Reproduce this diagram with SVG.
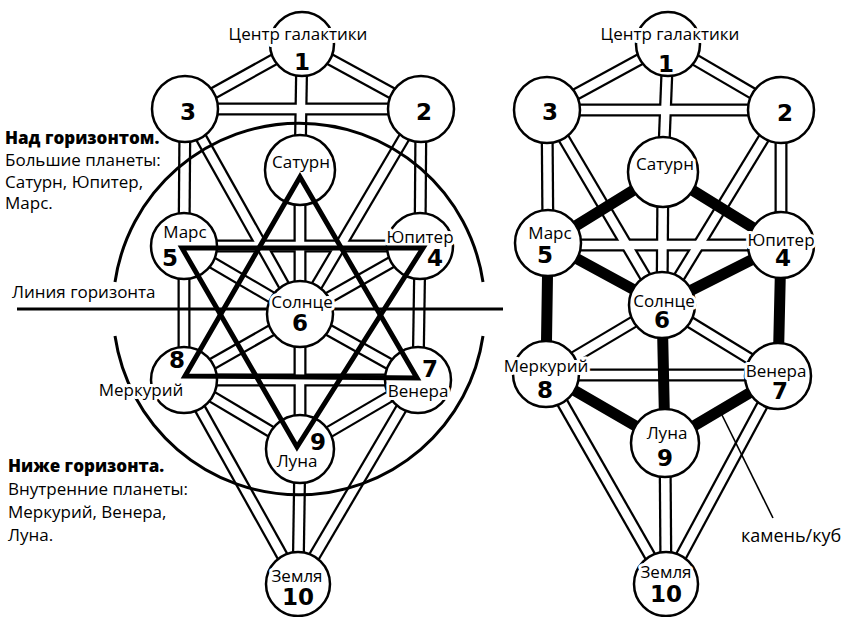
<svg xmlns="http://www.w3.org/2000/svg" width="851" height="617" viewBox="0 0 851 617">
<style>
.co{stroke:#000;stroke-width:13;fill:none}
.ci{stroke:#fff;stroke-width:8.5;fill:none}
.thick{stroke:#000;stroke-width:11;fill:none;stroke-linecap:round}
.node{fill:#fff;stroke:#000;stroke-width:2.5}
.lbl{font-family:"Open Sans","DejaVu Sans",sans-serif;font-size:17px;fill:#000;text-anchor:middle;paint-order:stroke;stroke:#fff;stroke-width:6;stroke-linejoin:round}
.num{font-family:"DejaVu Sans","Open Sans",sans-serif;font-size:23px;font-weight:bold;fill:#000;text-anchor:middle}
.txt{font-family:"Open Sans","DejaVu Sans",sans-serif;font-size:17px;fill:#000}
.bold{font-weight:800}
.star{fill:none;stroke:#000;stroke-width:5;stroke-linejoin:miter}
.hz{fill:none;stroke:#000;stroke-width:3}
</style>
<rect width="851" height="617" fill="#fff"/>
<g id="connectors">
 <g id="connectors-left">
  <g class="co">
   <line x1="302" y1="44" x2="421" y2="109"/><line x1="302" y1="44" x2="185" y2="109"/>
   <line x1="302" y1="44" x2="300" y2="170"/><line x1="300" y1="170" x2="300" y2="314"/>
   <line x1="185" y1="109" x2="421" y2="109"/><line x1="421" y1="109" x2="420" y2="246"/>
   <line x1="421" y1="109" x2="300" y2="314"/><line x1="185" y1="109" x2="184" y2="246"/>
   <line x1="185" y1="109" x2="300" y2="314"/><line x1="184" y1="246" x2="420" y2="246"/>
   <line x1="420" y1="246" x2="300" y2="314"/><line x1="420" y1="246" x2="418" y2="380"/>
   <line x1="184" y1="246" x2="300" y2="314"/><line x1="184" y1="246" x2="184" y2="380"/>
   <line x1="300" y1="314" x2="418" y2="380"/><line x1="300" y1="314" x2="184" y2="380"/>
   <line x1="300" y1="314" x2="300" y2="449"/><line x1="184" y1="380" x2="418" y2="380"/>
   <line x1="418" y1="380" x2="300" y2="449"/><line x1="418" y1="380" x2="298" y2="584"/>
   <line x1="184" y1="380" x2="300" y2="449"/><line x1="184" y1="380" x2="298" y2="584"/>
   <line x1="300" y1="449" x2="298" y2="584"/>
  </g>
  <g class="ci">
   <line x1="302" y1="44" x2="421" y2="109"/><line x1="302" y1="44" x2="185" y2="109"/>
   <line x1="302" y1="44" x2="300" y2="170"/><line x1="300" y1="170" x2="300" y2="314"/>
   <line x1="185" y1="109" x2="421" y2="109"/><line x1="421" y1="109" x2="420" y2="246"/>
   <line x1="421" y1="109" x2="300" y2="314"/><line x1="185" y1="109" x2="184" y2="246"/>
   <line x1="185" y1="109" x2="300" y2="314"/><line x1="184" y1="246" x2="420" y2="246"/>
   <line x1="420" y1="246" x2="300" y2="314"/><line x1="420" y1="246" x2="418" y2="380"/>
   <line x1="184" y1="246" x2="300" y2="314"/><line x1="184" y1="246" x2="184" y2="380"/>
   <line x1="300" y1="314" x2="418" y2="380"/><line x1="300" y1="314" x2="184" y2="380"/>
   <line x1="300" y1="314" x2="300" y2="449"/><line x1="184" y1="380" x2="418" y2="380"/>
   <line x1="418" y1="380" x2="300" y2="449"/><line x1="418" y1="380" x2="298" y2="584"/>
   <line x1="184" y1="380" x2="300" y2="449"/><line x1="184" y1="380" x2="298" y2="584"/>
   <line x1="300" y1="449" x2="298" y2="584"/>
  </g>
 </g>
 <g id="connectors-right">
  <g class="co">
   <line x1="668" y1="44" x2="781" y2="110"/><line x1="668" y1="44" x2="547" y2="110"/>
   <line x1="668" y1="44" x2="663" y2="172"/><line x1="663" y1="172" x2="662" y2="305"/>
   <line x1="547" y1="110" x2="781" y2="110"/><line x1="781" y1="110" x2="781" y2="245"/>
   <line x1="781" y1="110" x2="662" y2="305"/><line x1="547" y1="110" x2="548" y2="243"/>
   <line x1="547" y1="110" x2="662" y2="305"/><line x1="548" y1="245" x2="781" y2="245"/>
   <line x1="662" y1="305" x2="778" y2="376"/><line x1="662" y1="305" x2="546" y2="374"/>
   <line x1="546" y1="375" x2="778" y2="375"/>
   <line x1="778" y1="376" x2="666" y2="584"/><line x1="546" y1="374" x2="666" y2="584"/>
   <line x1="665" y1="443" x2="666" y2="584"/>
  </g>
  <g class="ci">
   <line x1="668" y1="44" x2="781" y2="110"/><line x1="668" y1="44" x2="547" y2="110"/>
   <line x1="668" y1="44" x2="663" y2="172"/><line x1="663" y1="172" x2="662" y2="305"/>
   <line x1="547" y1="110" x2="781" y2="110"/><line x1="781" y1="110" x2="781" y2="245"/>
   <line x1="781" y1="110" x2="662" y2="305"/><line x1="547" y1="110" x2="548" y2="243"/>
   <line x1="547" y1="110" x2="662" y2="305"/><line x1="548" y1="245" x2="781" y2="245"/>
   <line x1="662" y1="305" x2="778" y2="376"/><line x1="662" y1="305" x2="546" y2="374"/>
   <line x1="546" y1="375" x2="778" y2="375"/>
   <line x1="778" y1="376" x2="666" y2="584"/><line x1="546" y1="374" x2="666" y2="584"/>
   <line x1="665" y1="443" x2="666" y2="584"/>
  </g>
  <g class="thick">
   <line x1="663" y1="172" x2="548" y2="243"/><line x1="663" y1="172" x2="781" y2="245"/>
   <line x1="548" y1="243" x2="662" y2="305"/><line x1="781" y1="245" x2="662" y2="305"/>
   <line x1="548" y1="243" x2="546" y2="374"/><line x1="781" y1="245" x2="778" y2="376"/>
   <line x1="662" y1="305" x2="665" y2="443"/>
   <line x1="546" y1="374" x2="665" y2="443"/><line x1="778" y1="376" x2="665" y2="443"/>
  </g>
  <line x1="722" y1="415" x2="773" y2="518" stroke="#000" stroke-width="1.6"/>
 </g>
</g>
<g id="horizon">
 <path class="hz" d="M115 282 A186 186 0 0 1 483 282"/>
 <path class="hz" d="M483 336 A186 186 0 0 1 115 336"/>
 <line x1="17" y1="309" x2="503" y2="309" stroke="#000" stroke-width="3"/>
</g>
<g id="left-nodes">
 <g id="L1"><circle class="node" cx="302" cy="44" r="32"/><text class="lbl" x="298" y="40">Центр галактики</text><text class="num" x="302" y="70">1</text></g>
 <g id="L3"><circle class="node" cx="185" cy="109" r="33"/><text class="num" x="188" y="120">3</text></g>
 <g id="L2"><circle class="node" cx="421" cy="109" r="33"/><text class="num" x="424" y="120">2</text></g>
 <g id="LS"><circle class="node" cx="300" cy="170" r="35"/><text class="lbl" x="301" y="168">Сатурн</text></g>
 <g id="L5"><circle class="node" cx="184" cy="246" r="33"/><text class="lbl" x="185" y="238">Марс</text><text class="num" x="170" y="266">5</text></g>
 <g id="L4"><circle class="node" cx="420" cy="246" r="33"/><text class="lbl" x="420" y="243">Юпитер</text><text class="num" x="435" y="266">4</text></g>
 <g id="L6"><circle class="node" cx="300" cy="314" r="33"/><text class="lbl" x="302" y="308">Солнце</text><text class="num" x="300" y="331">6</text></g>
 <g id="L8"><circle class="node" cx="184" cy="380" r="33"/><text class="lbl" x="141" y="396">Меркурий</text><text class="num" x="177" y="368">8</text></g>
 <g id="L7"><circle class="node" cx="418" cy="380" r="33"/><text class="lbl" x="418" y="397">Венера</text><text class="num" x="430" y="377">7</text></g>
 <g id="L9"><circle class="node" cx="300" cy="449" r="34"/><text class="lbl" x="297" y="467">Луна</text><text class="num" x="318" y="450">9</text></g>
 <g id="L10"><circle class="node" cx="298" cy="584" r="32"/><text class="lbl" x="297" y="582">Земля</text><text class="num" x="298" y="605">10</text></g>
</g>
<g id="star">
 <polygon class="star" points="300,177 417,378 185,376"/>
 <polygon class="star" points="182,248 423,248 297,447"/>
</g>
<g id="right-nodes">
 <g id="R1"><circle class="node" cx="668" cy="44" r="32"/><text class="lbl" x="670" y="40">Центр галактики</text><text class="num" x="666" y="72">1</text></g>
 <g id="R3"><circle class="node" cx="547" cy="110" r="33"/><text class="num" x="550" y="120">3</text></g>
 <g id="R2"><circle class="node" cx="781" cy="110" r="33"/><text class="num" x="785" y="121">2</text></g>
 <g id="RS"><circle class="node" cx="663" cy="172" r="35"/><text class="lbl" x="665" y="170">Сатурн</text></g>
 <g id="R5"><circle class="node" cx="548" cy="243" r="33"/><text class="lbl" x="550" y="239">Марс</text><text class="num" x="545" y="263">5</text></g>
 <g id="R4"><circle class="node" cx="781" cy="245" r="33"/><text class="lbl" x="781" y="246">Юпитер</text><text class="num" x="783" y="266">4</text></g>
 <g id="R6"><circle class="node" cx="662" cy="305" r="33"/><text class="lbl" x="664" y="307">Солнце</text><text class="num" x="662" y="328">6</text></g>
 <g id="R8"><circle class="node" cx="546" cy="374" r="33"/><text class="lbl" x="546" y="372">Меркурий</text><text class="num" x="545" y="398">8</text></g>
 <g id="R7"><circle class="node" cx="778" cy="376" r="33"/><text class="lbl" x="776" y="377">Венера</text><text class="num" x="780" y="399">7</text></g>
 <g id="R9"><circle class="node" cx="665" cy="443" r="34"/><text class="lbl" x="667" y="439">Луна</text><text class="num" x="665" y="466">9</text></g>
 <g id="R10"><circle class="node" cx="666" cy="584" r="32"/><text class="lbl" x="666" y="578">Земля</text><text class="num" x="666" y="602">10</text></g>
</g>
<g id="labels">
 <text class="txt bold" x="5" y="144">Над горизонтом.</text>
 <text class="txt" x="5" y="166">Большие планеты:</text>
 <text class="txt" x="5" y="188">Сатурн, Юпитер,</text>
 <text class="txt" x="5" y="209">Марс.</text>
 <text class="txt" x="12" y="298">Линия горизонта</text>
 <text class="txt bold" x="8" y="472">Ниже горизонта.</text>
 <text class="txt" x="8" y="495">Внутренние планеты:</text>
 <text class="txt" x="8" y="518">Меркурий, Венера,</text>
 <text class="txt" x="8" y="541">Луна.</text>
 <text class="txt" x="741" y="542" style="font-size:18px">камень/куб</text>
</g>
</svg>
